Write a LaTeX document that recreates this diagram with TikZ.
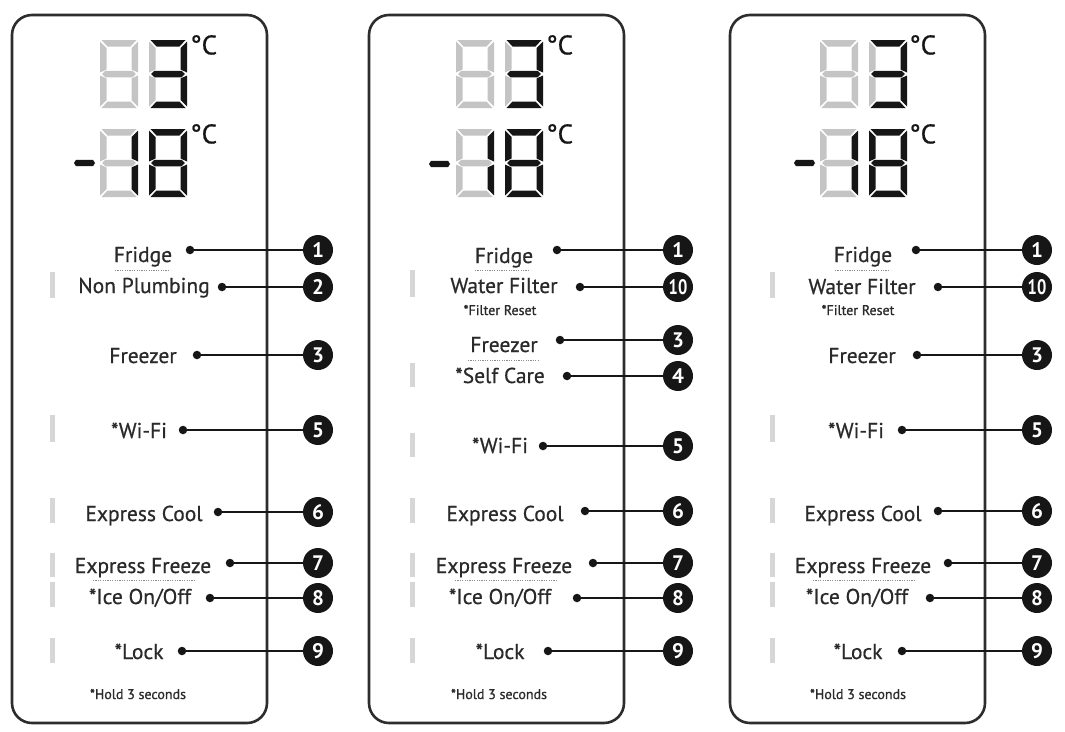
\documentclass[tikz,border=0pt]{standalone}
\usepackage{fontspec}
\setmainfont{PT Sans}
\newfontfamily\lblfont{PT Sans}[FakeBold=0.6]
\newfontfamily\notefont{PT Sans}[FakeBold=0.9]
\definecolor{ink}{HTML}{161616}
\definecolor{txt}{HTML}{2A2A2A}
\definecolor{lcdoff}{HTML}{C4C4C4}
\definecolor{barc}{HTML}{D6D6D6}
\newcommand\lcd[9]{%
 \begin{scope}[shift={(#1,#2)}]
  \fill[#3] (1.5,0) -- (36.5,0) -- (30.5,6.5) -- (7.5,6.5) -- cycle;
  \fill[#4] (38,1.5) -- (38,32.5) -- (31.5,29.5) -- (31.5,8) -- cycle;
  \fill[#5] (38,35.5) -- (38,66.5) -- (31.5,60) -- (31.5,38.5) -- cycle;
  \fill[#6] (1.5,68) -- (36.5,68) -- (30.5,61.5) -- (7.5,61.5) -- cycle;
  \fill[#7] (0,35.5) -- (0,66.5) -- (6.5,60) -- (6.5,38.5) -- cycle;
  \fill[#8] (0,1.5) -- (0,32.5) -- (6.5,29.5) -- (6.5,8) -- cycle;
  \fill[#9] (2,34) -- (5.5,30.75) -- (32.5,30.75) -- (36,34) -- (32.5,37.25) -- (5.5,37.25) -- cycle;
 \end{scope}}
\newcommand\minussign[2]{\fill[ink] (#1,#2-3.2) -- (#1+17,#2-3.2) -- (#1+19,#2) -- (#1+17,#2+3.2) -- (#1,#2+3.2) -- (#1-2,#2) -- cycle;}
\newcommand\callout[5]{%
  \node[dot] (d#1) at (#2,#3) {};
  \node[num] (n#1) at (#4,#3) {#5};
  \draw[lead] (d#1) -- (n#1);}
\newcommand\ten{\scalebox{0.78}[1]{10}}
\begin{document}
\begin{tikzpicture}[x=1pt,y=-1pt,
  panel/.style={draw=ink!90, line width=2.6pt, rounded corners=20pt},
  lbl/.style={anchor=base, inner sep=0pt, text=txt, font=\lblfont\fontsize{21.5}{21.5}\selectfont},
  note/.style={anchor=base, inner sep=0pt, text=txt, font=\notefont\fontsize{14}{14}\selectfont},
  deg/.style={anchor=north west, inner sep=0pt, text=ink, font=\lblfont\fontsize{27}{27}\selectfont},
  dot/.style={circle, fill=ink, minimum size=8.5pt, inner sep=0pt},
  num/.style={circle, fill=ink, text=white, minimum size=30pt, inner sep=0pt, font=\bfseries\fontsize{21}{21}\selectfont},
  lead/.style={draw=ink, line width=1.8pt},
  bar/.style={fill=barc},
  uline/.style={draw=black!45, line width=0.9pt, dash pattern=on 1.2pt off 1.2pt}]
\useasboundingbox (0,0) rectangle (1065,731);
\fill[white] (0,0) rectangle (1065,731);

% ---------- panels ----------
\draw[panel] (12,15) rectangle (267,723);
\draw[panel] (369,15) rectangle (624,723);
\draw[panel] (730,15) rectangle (985,723);

% ---------- displays ----------
\lcd{100}{40}{lcdoff}{lcdoff}{lcdoff}{lcdoff}{lcdoff}{lcdoff}{lcdoff}
\lcd{149}{40}{ink}{ink}{ink}{ink}{lcdoff}{lcdoff}{ink}
\minussign{76}{163}
\lcd{100}{129}{lcdoff}{ink}{ink}{lcdoff}{lcdoff}{lcdoff}{lcdoff}
\lcd{149}{129}{ink}{ink}{ink}{ink}{ink}{ink}{ink}
\node[deg] (c1a) at (190,35) {°C};
\node[deg] (c1b) at (190,124) {°C};

\lcd{456}{40}{lcdoff}{lcdoff}{lcdoff}{lcdoff}{lcdoff}{lcdoff}{lcdoff}
\lcd{505}{40}{ink}{ink}{ink}{ink}{lcdoff}{lcdoff}{ink}
\minussign{431}{164}
\lcd{456}{129}{lcdoff}{ink}{ink}{lcdoff}{lcdoff}{lcdoff}{lcdoff}
\lcd{505}{129}{ink}{ink}{ink}{ink}{ink}{ink}{ink}
\node[deg] (c2a) at (546,35) {°C};
\node[deg] (c2b) at (546,124) {°C};

\lcd{820}{40}{lcdoff}{lcdoff}{lcdoff}{lcdoff}{lcdoff}{lcdoff}{lcdoff}
\lcd{869}{40}{ink}{ink}{ink}{ink}{lcdoff}{lcdoff}{ink}
\minussign{796}{163}
\lcd{820}{129}{lcdoff}{ink}{ink}{lcdoff}{lcdoff}{lcdoff}{lcdoff}
\lcd{869}{129}{ink}{ink}{ink}{ink}{ink}{ink}{ink}
\node[deg] (c3a) at (909,35) {°C};
\node[deg] (c3b) at (909,124) {°C};

% ---------- side bars ----------
\foreach \x in {50,770}{
  \foreach \a/\b in {272/298,415/442,498/523,553/577,582/607,638/663}
    \fill[bar] (\x,\a) rectangle (\x+5,\b);}
\foreach \a/\b in {270/297,363/387,433/457,498/523,553/577,582/607,638/663}
  \fill[bar] (410,\a) rectangle (415,\b);

% ---------- panel 1 labels ----------
\node[lbl] (t1fr) at (143,262) {Fridge};
\node[lbl] (t1np) at (144,293) {Non Plumbing};
\node[lbl] (t1fz) at (143,363) {Freezer};
\node[lbl] (t1wf) at (139,438) {*Wi-Fi};
\node[lbl] (t1ec) at (144,521) {Express Cool};
\node[lbl] (t1ef) at (143,573) {Express Freeze};
\node[lbl] (t1ic) at (140,604) {*Ice On/Off};
\node[lbl] (t1lk) at (139,659) {*Lock};
\node[note] (t1hd) at (138,699) {*Hold 3 seconds};
\draw[uline] (115,270) -- (170,270);
\draw[uline] (93,580) -- (195,580);

% ---------- panel 2 labels ----------
\node[lbl] (t2fr) at (504,263) {Fridge};
\node[lbl] (t2wt) at (504,293) {Water Filter};
\node[note] (t2rs) at (500,315) {*Filter Reset};
\node[lbl] (t2fz) at (504,352) {Freezer};
\node[lbl] (t2sc) at (500,383) {*Self Care};
\node[lbl] (t2wf) at (500,453) {*Wi-Fi};
\node[lbl] (t2ec) at (505,521) {Express Cool};
\node[lbl] (t2ef) at (504,573) {Express Freeze};
\node[lbl] (t2ic) at (500,604) {*Ice On/Off};
\node[lbl] (t2lk) at (500,659) {*Lock};
\node[note] (t2hd) at (499,699) {*Hold 3 seconds};
\draw[uline] (475,270) -- (530,270);
\draw[uline] (468,360) -- (540,360);
\draw[uline] (455,580) -- (557,580);

% ---------- panel 3 labels ----------
\node[lbl] (t3fr) at (863,262) {Fridge};
\node[lbl] (t3wt) at (862,294) {Water Filter};
\node[note] (t3rs) at (858,315) {*Filter Reset};
\node[lbl] (t3fz) at (862,363) {Freezer};
\node[lbl] (t3wf) at (856,438) {*Wi-Fi};
\node[lbl] (t3ec) at (863,521) {Express Cool};
\node[lbl] (t3ef) at (863,573) {Express Freeze};
\node[lbl] (t3ic) at (857,604) {*Ice On/Off};
\node[lbl] (t3lk) at (858,659) {*Lock};
\node[note] (t3hd) at (858,699) {*Hold 3 seconds};
\draw[uline] (835,270) -- (890,270);
\draw[uline] (813,580) -- (915,580);

% ---------- callouts ----------
\callout{a1}{190}{250}{318}{1}
\callout{a2}{222}{287}{318}{2}
\callout{a3}{197}{355}{318}{3}
\callout{a5}{183}{430}{318}{5}
\callout{a6}{218}{512}{318}{6}
\callout{a7}{230}{563}{318}{7}
\callout{a8}{210}{598}{318}{8}
\callout{a9}{182}{651}{318}{9}

\callout{b1}{557}{250}{678}{1}
\callout{b10}{580}{287}{678}{\ten}
\callout{b3}{560}{340}{678}{3}
\callout{b4}{567}{376}{678}{4}
\callout{b5}{543}{446}{678}{5}
\callout{b6}{585}{511}{678}{6}
\callout{b7}{593}{563}{678}{7}
\callout{b8}{577}{598}{678}{8}
\callout{b9}{548}{651}{678}{9}

\callout{c1}{916}{250}{1037}{1}
\callout{c10}{938}{287}{1037}{\ten}
\callout{c3}{917}{355}{1037}{3}
\callout{c5}{902}{430}{1037}{5}
\callout{c6}{938}{511}{1037}{6}
\callout{c7}{948}{563}{1037}{7}
\callout{c8}{930}{598}{1037}{8}
\callout{c9}{902}{651}{1037}{9}
\end{tikzpicture}
\end{document}
